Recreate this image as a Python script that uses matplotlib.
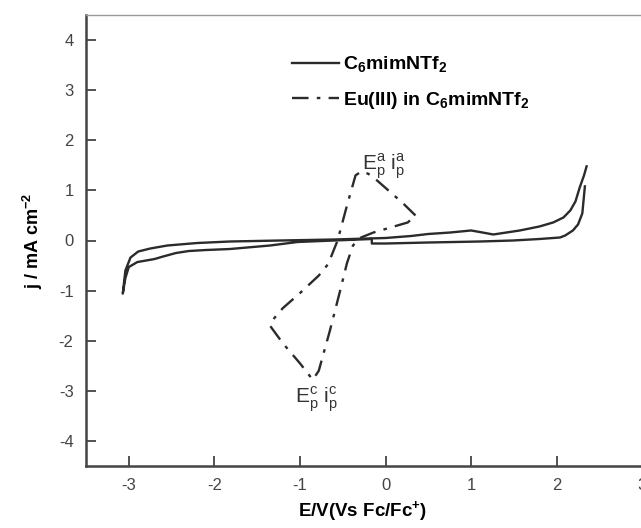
import matplotlib
matplotlib.use("Agg")
import matplotlib.pyplot as plt

plt.rcParams['font.family'] = ['Liberation Sans', 'DejaVu Sans']
plt.rcParams['axes.unicode_minus'] = False
plt.rcParams['mathtext.fontset'] = 'custom'
plt.rcParams['mathtext.rm'] = 'Liberation Sans'
plt.rcParams['mathtext.bf'] = 'Liberation Sans:bold'

# Blank ionic liquid (solid) - open CV trace, both ends at the anodic limit
blank_E = [2.33, 2.3, 2.25, 2.19, 2.1, 2.04, 1.8, 1.49, 1.1, 0.5, 0.0, -0.16, -0.16, -0.3,
           -0.6, -1.03, -1.35, -1.82, -2.1, -2.3, -2.45, -2.6, -2.7, -2.8, -2.9, -3.0, -3.04, -3.07,
           -3.04, -2.98, -2.89, -2.75, -2.55, -2.2, -1.82, -1.23, -0.6, 0.0, 0.3, 0.5, 0.76,
           1.0, 1.1, 1.26, 1.57, 1.8, 1.96, 2.08, 2.16, 2.22, 2.27, 2.32, 2.35]
blank_j = [1.08, 0.54, 0.32, 0.2, 0.1, 0.06, 0.03, 0.0, -0.02, -0.04, -0.06, -0.06, 0.03, 0.02,
           0.0, -0.03, -0.1, -0.17, -0.19, -0.21, -0.25, -0.32, -0.37, -0.4, -0.43, -0.53, -0.75, -1.06,
           -0.6, -0.34, -0.22, -0.16, -0.1, -0.05, -0.02, 0.0, 0.02, 0.05, 0.09, 0.13, 0.16,
           0.2, 0.17, 0.12, 0.2, 0.28, 0.36, 0.46, 0.6, 0.78, 1.06, 1.3, 1.48]

# Eu(III) in C6mimNTf2 (dash-dot) - closed CV loop
eu_E = [0.35, 0.2, -0.1, -0.2, -0.28, -0.35, -0.45, -0.56, -0.67, -0.78, -1.0, -1.2, -1.3,
        -1.35, -1.2, -1.0, -0.85, -0.78, -0.65, -0.53, -0.45, -0.38, -0.3, -0.14, 0.1, 0.26, 0.35]
eu_j = [0.5, 0.75, 1.2, 1.33, 1.38, 1.3, 0.7, 0.0, -0.47, -0.7, -1.05, -1.35, -1.55,
        -1.7, -2.05, -2.45, -2.78, -2.6, -1.8, -1.0, -0.45, -0.1, 0.05, 0.16, 0.28, 0.36, 0.5]

legend_labels = [r'C$_\mathbf{6}$mimNTf$_\mathbf{2}$', r'Eu(III) in C$_\mathbf{6}$mimNTf$_\mathbf{2}$']
x_ticks = [-3, -2, -1, 0, 1, 2, 3]
y_ticks = [-4, -3, -2, -1, 0, 1, 2, 3, 4]

fig = plt.figure(figsize=(6.41, 5.28), dpi=100)
ax = fig.add_axes([86/641, 62/528, 599/641, 451/528])

line_color = '#2b2b2b'
ax.plot(blank_E, blank_j, color=line_color, lw=1.7, label=legend_labels[0])
ax.plot(eu_E, eu_j, color=line_color, lw=1.7, linestyle=(0, (7, 3.5, 1.5, 3.5)),
        label=legend_labels[1])

ax.set_xlim(-3.5, 3.5)
ax.set_ylim(-4.5, 4.5)
ax.set_xticks(x_ticks)
ax.set_yticks(y_ticks)
ax.tick_params(direction='in', length=7, width=1.3, labelsize=12, colors='#444444',
               labelcolor='#444444', pad=9)
for s in ['left', 'bottom']:
    ax.spines[s].set_linewidth(1.8)
    ax.spines[s].set_color('#444444')
ax.spines['top'].set_color('#999999')
ax.spines['top'].set_linewidth(1.0)
ax.spines['right'].set_visible(False)

ax.set_xlabel(r'E/V(Vs Fc/Fc$^\mathbf{+}$)', fontsize=13.5, fontweight='bold')
ax.xaxis.set_label_coords((363 - 86) / 599, -(512 - 466) / 451)
ax.xaxis.label.set_va('center')
ax.set_ylabel(r'j / mA cm$^\mathbf{-2}$', fontsize=13, fontweight='bold', labelpad=10)

leg = ax.legend(loc='center left', bbox_to_anchor=(0.315, 0.85), frameon=False,
                handlelength=2.4, handletextpad=0.2, labelspacing=0.75,
                prop={'weight': 'bold', 'size': 14})

ax.text(-0.27, 1.42, r'E$_\mathrm{p}^\mathrm{a}$ i$_\mathrm{p}^\mathrm{a}$',
        fontsize=15, color='#333333')
ax.text(-1.06, -3.24, r'E$_\mathrm{p}^\mathrm{c}$ i$_\mathrm{p}^\mathrm{c}$',
        fontsize=15, color='#333333')

fig.savefig('out.png', dpi=100)
